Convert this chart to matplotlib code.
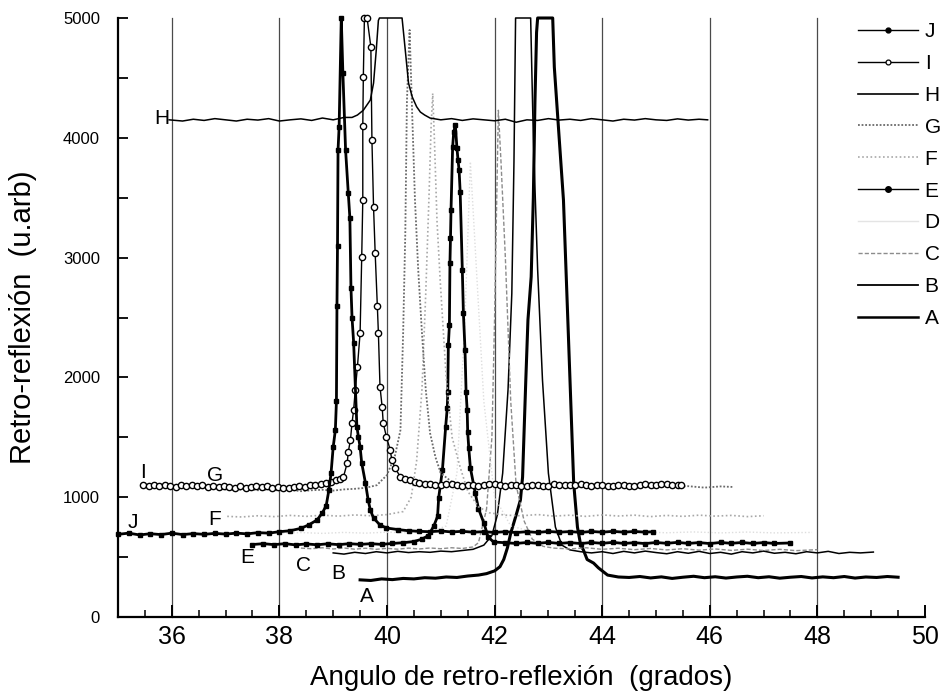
import matplotlib
matplotlib.use("Agg")
import matplotlib.pyplot as plt
from matplotlib.lines import Line2D
from matplotlib.ticker import MultipleLocator

plt.rcParams["font.family"] = ["Liberation Sans", "DejaVu Sans"]

# (ángulo, retro-reflexión) de cada barrido
J = [(35.0, 690), (35.2, 700), (35.4, 685), (35.6, 695), (35.8, 688), (36.0, 700), (36.2, 688),
     (36.4, 696), (36.6, 690), (36.8, 698), (37.0, 692), (37.2, 700), (37.4, 694), (37.6, 704),
     (37.8, 700), (38.0, 712), (38.2, 720), (38.4, 740), (38.55, 770), (38.7, 810), (38.8, 870),
     (38.87, 930), (38.92, 1060), (38.96, 1200), (39.0, 1420), (39.04, 1560), (39.06, 1800),
     (39.07, 2600), (39.08, 3100), (39.09, 3900), (39.11, 4090), (39.15, 5000), (39.18, 4540),
     (39.23, 3900), (39.28, 3540), (39.31, 3330), (39.33, 2750), (39.35, 2500), (39.38, 2290),
     (39.44, 1590), (39.47, 1500), (39.5, 1420), (39.53, 1285), (39.6, 1118), (39.65, 976),
     (39.69, 893), (39.75, 826), (39.87, 768), (39.99, 743), (40.2, 730), (40.4, 720), (40.6, 715),
     (40.8, 712), (41.0, 718), (41.2, 710), (41.4, 715), (41.6, 708), (41.8, 712), (42.0, 706),
     (42.2, 712), (42.4, 705), (42.6, 712), (42.8, 706), (43.0, 714), (43.2, 708), (43.4, 713),
     (43.6, 706), (43.8, 714), (44.0, 708), (44.2, 715), (44.4, 708), (44.6, 714), (44.8, 708),
     (44.95, 712)]

I = [(35.47, 1100), (35.57, 1092), (35.67, 1104), (35.77, 1096), (35.87, 1106), (35.97, 1094),
     (36.07, 1088), (36.17, 1100), (36.27, 1092), (36.37, 1102), (36.47, 1090), (36.57, 1098),
     (36.67, 1086), (36.77, 1094), (36.87, 1082), (36.97, 1096), (37.07, 1088), (37.17, 1080),
     (37.27, 1092), (37.37, 1078), (37.47, 1088), (37.57, 1094), (37.67, 1082), (37.77, 1090),
     (37.87, 1078), (37.97, 1088), (38.07, 1080), (38.17, 1074), (38.27, 1086), (38.37, 1092),
     (38.47, 1084), (38.57, 1098), (38.67, 1104), (38.77, 1110), (38.87, 1118), (38.95, 1125),
     (39.05, 1140), (39.12, 1150), (39.19, 1168), (39.26, 1285), (39.28, 1377), (39.32, 1477),
     (39.35, 1619), (39.38, 1728), (39.41, 1895), (39.45, 2087), (39.5, 2370), (39.53, 3005),
     (39.55, 3480), (39.55, 4100), (39.56, 4507), (39.58, 5000), (39.63, 5000), (39.7, 4758),
     (39.72, 3980), (39.75, 3420), (39.78, 3040), (39.82, 2600), (39.84, 2370), (39.87, 1920),
     (39.91, 1753), (39.93, 1619), (39.99, 1502), (40.06, 1394), (40.09, 1310), (40.15, 1244),
     (40.25, 1168), (40.34, 1150), (40.43, 1143), (40.52, 1130), (40.6, 1120), (40.7, 1112),
     (40.8, 1110), (40.9, 1104), (41.0, 1100), (41.1, 1108), (41.2, 1110), (41.3, 1098),
     (41.4, 1095), (41.5, 1104), (41.6, 1105), (41.7, 1096), (41.8, 1098), (41.9, 1110),
     (42.0, 1108), (42.1, 1100), (42.2, 1096), (42.3, 1104), (42.4, 1106), (42.5, 1094),
     (42.6, 1094), (42.7, 1102), (42.8, 1104), (42.9, 1092), (43.0, 1096), (43.1, 1108),
     (43.2, 1106), (43.3, 1098), (43.4, 1098), (43.5, 1104), (43.6, 1108), (43.7, 1100),
     (43.8, 1095), (43.9, 1106), (44.0, 1102), (44.1, 1096), (44.2, 1094), (44.3, 1104),
     (44.4, 1104), (44.5, 1092), (44.6, 1096), (44.7, 1106), (44.8, 1110), (44.9, 1100),
     (45.0, 1102), (45.1, 1112), (45.2, 1108), (45.3, 1098), (45.4, 1106), (45.47, 1100)]

H = [(35.95, 4150), (36.2, 4140), (36.4, 4155), (36.6, 4145), (36.8, 4160), (37.0, 4150),
     (37.2, 4140), (37.4, 4155), (37.6, 4148), (37.8, 4160), (38.0, 4140), (38.2, 4150),
     (38.4, 4158), (38.6, 4145), (38.8, 4165), (39.0, 4150), (39.2, 4170), (39.35, 4170),
     (39.45, 4190), (39.56, 4230), (39.69, 4315), (39.75, 4457), (39.8, 4730), (39.84, 4980),
     (39.86, 5000), (40.28, 5000), (40.34, 4730), (40.4, 4457), (40.47, 4340), (40.55, 4260),
     (40.62, 4215), (40.7, 4190), (40.8, 4165), (41.0, 4150), (41.2, 4160), (41.4, 4145),
     (41.6, 4158), (41.8, 4150), (42.0, 4142), (42.2, 4155), (42.4, 4130), (42.6, 4150),
     (42.8, 4145), (43.0, 4160), (43.2, 4148), (43.4, 4155), (43.6, 4145), (43.8, 4160),
     (44.0, 4150), (44.2, 4140), (44.4, 4155), (44.6, 4148), (44.8, 4160), (45.0, 4150),
     (45.2, 4145), (45.4, 4158), (45.6, 4148), (45.8, 4155), (45.96, 4150)]

G = [(36.85, 1070), (37.0, 1065), (37.2, 1060), (37.4, 1070), (37.6, 1058), (37.8, 1065),
     (38.0, 1055), (38.2, 1062), (38.4, 1050), (38.6, 1058), (38.8, 1062), (39.0, 1055),
     (39.2, 1065), (39.4, 1070), (39.6, 1078), (39.81, 1100), (40.0, 1185), (40.15, 1350),
     (40.25, 1560), (40.3, 2370), (40.34, 3200), (40.37, 4300), (40.42, 4900), (40.47, 4175),
     (40.52, 3480), (40.58, 2900), (40.65, 2370), (40.72, 1900), (40.8, 1536), (40.9, 1335),
     (41.0, 1200), (41.2, 1130), (41.4, 1100), (41.6, 1090), (41.8, 1085), (42.0, 1095),
     (42.3, 1080), (42.6, 1092), (42.9, 1082), (43.2, 1095), (43.5, 1085), (43.8, 1093),
     (44.1, 1080), (44.4, 1090), (44.7, 1082), (45.0, 1095), (45.3, 1085), (45.6, 1092),
     (45.9, 1080), (46.2, 1090), (46.45, 1085)]

F = [(37.03, 840), (37.3, 835), (37.6, 845), (37.9, 838), (38.2, 848), (38.5, 840), (38.8, 850),
     (39.1, 842), (39.4, 852), (39.7, 845), (40.0, 855), (40.3, 880), (40.45, 1000), (40.55, 1300),
     (40.65, 1900), (40.72, 2700), (40.78, 3500), (40.82, 4100), (40.85, 4370), (40.88, 4000),
     (40.93, 3300), (40.99, 2800), (41.1, 2000), (41.21, 1500), (41.36, 1250), (41.5, 1050),
     (41.7, 920), (41.9, 870), (42.2, 850), (42.5, 845), (42.8, 855), (43.1, 842), (43.4, 850),
     (43.7, 840), (44.0, 852), (44.3, 843), (44.6, 850), (44.9, 838), (45.2, 848), (45.5, 840),
     (45.8, 850), (46.1, 842), (46.4, 848), (46.7, 838), (47.0, 845)]

E = [(37.5, 605), (37.7, 612), (37.9, 604), (38.1, 612), (38.3, 602), (38.5, 610), (38.7, 603),
     (38.9, 611), (39.1, 604), (39.3, 612), (39.5, 606), (39.7, 612), (39.9, 606), (40.1, 614),
     (40.3, 620), (40.5, 630), (40.65, 650), (40.77, 680), (40.87, 760), (40.94, 840),
     (40.96, 993), (41.03, 1227), (41.09, 1586), (41.12, 1745), (41.13, 1878), (41.14, 2270),
     (41.16, 2437), (41.17, 2955), (41.18, 3163), (41.19, 3397), (41.22, 3923), (41.24, 4048),
     (41.27, 4107), (41.3, 3915), (41.32, 3815), (41.34, 3731), (41.36, 3548), (41.4, 2896),
     (41.42, 2537), (41.45, 2229), (41.47, 1878), (41.49, 1728), (41.5, 1544), (41.52, 1410),
     (41.55, 1244), (41.64, 1035), (41.7, 905), (41.8, 785), (41.88, 668), (41.98, 626),
     (42.2, 620), (42.4, 614), (42.6, 622), (42.8, 615), (43.0, 623), (43.2, 614), (43.4, 621),
     (43.6, 613), (43.8, 622), (44.0, 615), (44.2, 623), (44.4, 614), (44.6, 620), (44.8, 613),
     (45.0, 622), (45.2, 615), (45.4, 623), (45.6, 614), (45.8, 621), (46.0, 613), (46.2, 622),
     (46.4, 615), (46.6, 622), (46.8, 614), (47.0, 621), (47.2, 614), (47.5, 618)]

D = [(38.0, 700), (38.4, 705), (38.8, 698), (39.2, 706), (39.6, 700), (40.0, 708), (40.4, 702),
     (40.8, 710), (41.1, 760), (41.3, 1200), (41.45, 2500), (41.55, 3800), (41.65, 3000),
     (41.8, 1800), (42.0, 1000), (42.3, 760), (42.7, 712), (43.2, 705), (43.7, 712), (44.2, 704),
     (44.7, 711), (45.2, 703), (45.7, 710), (46.2, 702), (46.7, 709), (47.2, 702), (47.9, 706)]

C = [(38.4, 575), (38.6, 570), (38.8, 578), (39.0, 568), (39.2, 576), (39.4, 566), (39.6, 574),
     (39.8, 565), (40.0, 573), (40.2, 566), (40.4, 575), (40.6, 568), (40.8, 576), (41.0, 570),
     (41.2, 578), (41.4, 572), (41.6, 585), (41.7, 620), (41.85, 900), (41.95, 1500), (42.0, 2500),
     (42.04, 3500), (42.07, 4230), (42.12, 3790), (42.2, 3000), (42.3, 1800), (42.4, 1100),
     (42.55, 800), (42.7, 650), (42.9, 590), (43.1, 575), (43.4, 568), (43.7, 578), (44.0, 565),
     (44.3, 574), (44.6, 562), (44.9, 572), (45.2, 560), (45.5, 570), (45.8, 558), (46.1, 568),
     (46.4, 556), (46.7, 566), (47.0, 555), (47.3, 565), (47.6, 554), (48.0, 562)]

B = [(39.0, 535), (39.2, 525), (39.4, 540), (39.6, 530), (39.8, 545), (40.0, 535), (40.2, 548),
     (40.4, 538), (40.6, 545), (40.8, 540), (41.0, 550), (41.2, 545), (41.4, 555), (41.6, 565),
     (41.8, 600), (41.95, 680), (42.05, 850), (42.15, 1200), (42.25, 1900), (42.32, 2700),
     (42.36, 3800), (42.39, 5000), (42.67, 5000), (42.72, 4000), (42.8, 2900), (42.89, 1978),
     (43.0, 1200), (43.13, 751), (43.25, 600), (43.4, 560), (43.6, 545), (43.8, 535), (44.0, 545),
     (44.2, 530), (44.4, 548), (44.6, 535), (44.8, 550), (45.0, 538), (45.2, 528), (45.4, 545),
     (45.6, 532), (45.8, 548), (46.0, 530), (46.2, 540), (46.4, 525), (46.6, 545), (46.8, 535),
     (47.0, 550), (47.2, 532), (47.4, 540), (47.6, 528), (47.8, 545), (48.0, 535), (48.2, 548),
     (48.4, 530), (48.6, 540), (48.8, 535), (49.04, 542)]

A = [(39.5, 310), (39.7, 305), (39.9, 318), (40.1, 312), (40.3, 322), (40.5, 318), (40.7, 328),
     (40.9, 324), (41.1, 334), (41.3, 330), (41.5, 342), (41.7, 350), (41.85, 362), (42.0, 385),
     (42.1, 420), (42.17, 480), (42.24, 580), (42.3, 700), (42.4, 850), (42.48, 977), (42.52, 1168),
     (42.58, 1978), (42.62, 2480), (42.68, 2840), (42.72, 3500), (42.75, 4300), (42.78, 4880),
     (42.8, 5000), (43.08, 5000), (43.11, 4590), (43.2, 4000), (43.28, 3480), (43.37, 2370),
     (43.47, 1118), (43.54, 750), (43.6, 600), (43.65, 560), (43.72, 480), (43.84, 450),
     (43.93, 410), (44.1, 350), (44.3, 334), (44.5, 330), (44.7, 338), (44.9, 326), (45.1, 335),
     (45.3, 322), (45.5, 332), (45.7, 340), (45.9, 328), (46.1, 336), (46.3, 325), (46.5, 334),
     (46.7, 340), (46.9, 328), (47.1, 336), (47.3, 324), (47.5, 332), (47.7, 338), (47.9, 326),
     (48.1, 335), (48.3, 328), (48.5, 338), (48.7, 325), (48.9, 334), (49.1, 330), (49.3, 338),
     (49.5, 332)]

SERIES = ["J", "I", "H", "G", "F", "E", "D", "C", "B", "A"]
DATOS = {"J": J, "I": I, "H": H, "G": G, "F": F, "E": E, "D": D, "C": C, "B": B, "A": A}

# etiqueta de cada curva junto a su inicio
ETIQUETAS = {"H": (35.82, 4157), "I": (35.46, 1210), "G": (36.8, 1185), "F": (36.8, 810),
             "J": (35.28, 785), "E": (37.4, 500), "C": (38.44, 434), "B": (39.09, 367),
             "A": (39.63, 167)}

ESTILOS = {
    "J": dict(color="black", lw=2.0, marker="s", ms=3.5, mfc="black", mec="black"),
    "I": dict(color="black", lw=1.0, marker="o", ms=4.5, mfc="white", mec="black", mew=1.0),
    "H": dict(color="black", lw=1.1),
    "G": dict(color="#6a6a6a", lw=1.3, ls=(0, (1, 1))),
    "F": dict(color="#a8a8a8", lw=1.2, ls=(0, (1, 1.5))),
    "E": dict(color="black", lw=2.0, marker="s", ms=3.5, mfc="black", mec="black"),
    "D": dict(color="#dddddd", lw=1.0, ls=(0, (1, 1.5))),
    "C": dict(color="#8c8c8c", lw=1.0, ls=(0, (3, 1.5))),
    "B": dict(color="black", lw=1.1),
    "A": dict(color="black", lw=2.2),
}

# muestras de la leyenda: trazo fino con un solo marcador
MUESTRAS = {
    "J": dict(color="black", lw=1.0, marker="o", ms=3.5, mfc="black", mec="black"),
    "I": dict(color="black", lw=1.0, marker="o", ms=3.5, mfc="white", mec="black", mew=0.9),
    "H": dict(color="black", lw=1.2),
    "G": dict(color="#6a6a6a", lw=1.3, ls=(0, (1, 1))),
    "F": dict(color="#a8a8a8", lw=1.2, ls=(0, (1, 1.5))),
    "E": dict(color="black", lw=1.0, marker="o", ms=4, mfc="black", mec="black"),
    "D": dict(color="#e4e4e4", lw=1.0),
    "C": dict(color="#8c8c8c", lw=1.0, ls=(0, (3, 1.5))),
    "B": dict(color="black", lw=1.3),
    "A": dict(color="black", lw=1.8),
}

fig = plt.figure(figsize=(9.46, 6.96), dpi=100)
ax = fig.add_axes([118 / 946, 79 / 696, 807 / 946, 599 / 696])

for xg in range(36, 50, 2):
    ax.plot([xg, xg], [0, 5000], color="#4a4a4a", lw=0.9, zorder=1, clip_on=False)

for nombre in reversed(SERIES):
    xs, ys = zip(*DATOS[nombre])
    ax.plot(xs, ys, clip_on=False, zorder=3, **ESTILOS[nombre])

for nombre, (xt, yt) in ETIQUETAS.items():
    ax.text(xt, yt, nombre, fontsize=15, ha="center", va="center", zorder=4)

ax.set_xlim(35, 50)
ax.set_ylim(0, 5000)
ax.spines["top"].set_visible(False)
ax.spines["right"].set_visible(False)
for lado in ("left", "bottom"):
    ax.spines[lado].set_linewidth(1.6)

ax.xaxis.set_major_locator(MultipleLocator(2))
ax.xaxis.set_minor_locator(MultipleLocator(0.5))
ax.yaxis.set_major_locator(MultipleLocator(1000))
ax.yaxis.set_minor_locator(MultipleLocator(500))
ax.tick_params(axis="x", which="major", direction="in", length=9, width=1.4, pad=6, labelsize=18)
ax.tick_params(axis="x", which="minor", direction="in", length=5, width=1.1)
ax.tick_params(axis="y", which="both", direction="in", length=7, width=1.3, pad=13, labelsize=12)

ax.set_xlabel("Angulo de retro-reflexión  (grados)", fontsize=20, labelpad=11)
ax.set_ylabel("Retro-reflexión  (u.arb)", fontsize=21)
ax.yaxis.set_label_coords(-0.1, 0.5)

muestras = [Line2D([], [], **MUESTRAS[n]) for n in SERIES]
ax.legend(muestras, SERIES, loc="upper left",
          bbox_to_anchor=(858 / 946, 1 - 22 / 696), bbox_transform=fig.transFigure,
          frameon=False, fontsize=15, handlelength=2.9, handletextpad=0.3,
          labelspacing=0.62, borderpad=0, borderaxespad=0, numpoints=1)

fig.savefig("out.png", dpi=100)
